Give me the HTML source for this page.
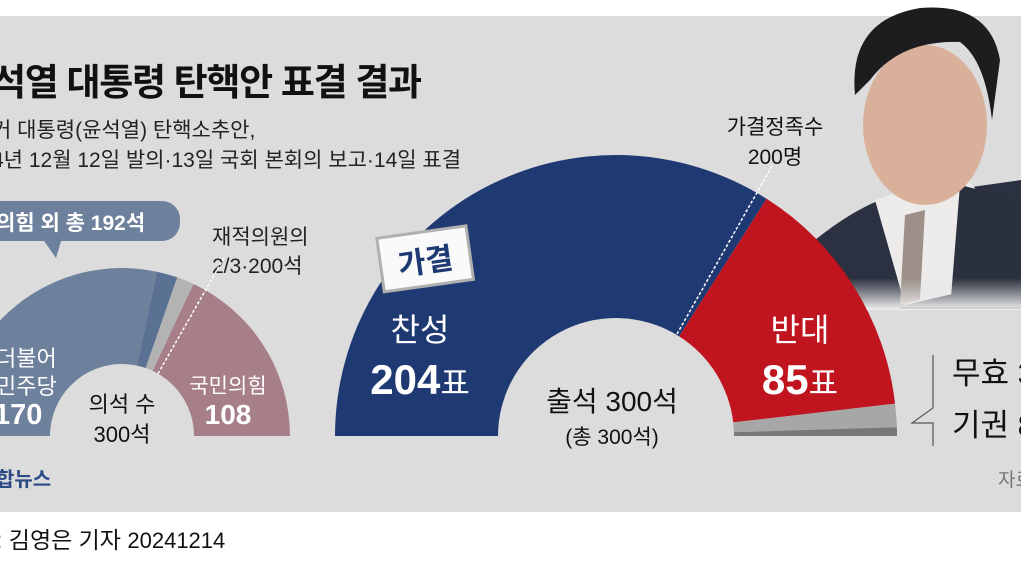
<!DOCTYPE html>
<html><head><meta charset="utf-8"><style>
html,body{margin:0;padding:0;background:#fff;}
svg{display:block;font-family:"Liberation Sans","Noto Sans CJK KR",sans-serif;}
</style></head><body>
<svg width="1021" height="568" viewBox="0 0 1021 568" xmlns="http://www.w3.org/2000/svg">
<rect x="0" y="16" width="1021" height="496" fill="#dcdcdc"/>
<defs>
<linearGradient id="fade" x1="0" y1="0" x2="0" y2="1">
<stop offset="0.6" stop-color="#dcdcdc" stop-opacity="0"/>
<stop offset="1" stop-color="#f2f2f2" stop-opacity="1"/>
</linearGradient>
</defs>
<path d="M800,310 L815,240 Q850,212 880,200 L1021,180 L1021,310 Z" fill="#2b3140"/>
<path d="M875,200 L920,185 L968,180 L985,200 L970,290 L905,305 Z" fill="#ecebea"/>
<path d="M905,215 L925,210 L920,300 L900,305 Z" fill="#9c9088"/>
<path d="M960,185 L1021,200 L1021,310 L950,310 Z" fill="#2a303d"/>
<ellipse cx="925" cy="125" rx="62" ry="80" fill="#d9b19b"/>
<path d="M855,95 Q848,20 920,8 Q990,2 1000,60 L992,120 Q985,60 960,42 Q900,40 870,80 Z" fill="#1d1d1f"/>
<rect x="800" y="230" width="221" height="80" fill="url(#fade)"/>
<line x1="900" y1="308" x2="1021" y2="308" stroke="#bdbdbd" stroke-width="1"/>
<text x="-8" y="95" font-size="37" font-weight="bold" fill="#111" letter-spacing="-1.3">석열 대통령 탄핵안 표결 결과</text>
<text x="-8" y="137" font-size="21" fill="#222">거 대통령(윤석열) 탄핵소추안,</text>
<text x="-8" y="167" font-size="21" fill="#222">4년 12월 12일 발의·13일 국회 본회의 보고·14일 표결</text>
<rect x="-30" y="201" width="210" height="40" rx="18" fill="#6d809c"/>
<path d="M42,238 L56,258 L62,238 Z" fill="#6d809c"/>
<text x="-4" y="230" font-size="21" font-weight="bold" fill="#fff">의힘 외 총 192석</text>
<text x="212" y="244" font-size="21" fill="#222">재적의원의</text>
<text x="212" y="273" font-size="21" fill="#222">2/3·200석</text>
<path d="M-46,436 A168,168 0 0 1 156.9,271.7 L137,365.6 A72,72 0 0 0 50,436 Z" fill="#6d809c"/>
<path d="M156.9,271.7 A168,168 0 0 1 177.3,277.3 L145.7,368 A72,72 0 0 0 137,365.6 Z" fill="#5a7194"/>
<path d="M177.3,277.3 A168,168 0 0 1 193.5,284 L152.7,370.9 A72,72 0 0 0 145.7,368 Z" fill="#b3b3b3"/>
<path d="M193.5,284 A168,168 0 0 1 290,436 L194,436 A72,72 0 0 0 152.7,370.9 Z" fill="#a77f89"/>
<line x1="158" y1="373.6" x2="225" y2="256" stroke="#fff" stroke-width="1.5" stroke-dasharray="3,2"/>
<text x="-4" y="366" font-size="22" fill="#fff">더불어</text>
<text x="-4" y="394" font-size="22" fill="#fff">민주당</text>
<text x="-6" y="424" font-size="29" font-weight="bold" fill="#fff">170</text>
<text x="122" y="412" font-size="22" fill="#111" text-anchor="middle">의석 수</text>
<text x="122" y="442" font-size="22" fill="#111" text-anchor="middle">300석</text>
<text x="228" y="393" font-size="21" fill="#fff" text-anchor="middle">국민의힘</text>
<text x="228" y="424" font-size="28" font-weight="bold" fill="#fff" text-anchor="middle">108</text>
<path d="M335,436 A281,281 0 0 1 766.6,198.8 L679.2,336.4 A118,118 0 0 0 498,436 Z" fill="#1f3a73"/>
<path d="M766.6,198.8 A281,281 0 0 1 895.1,403.7 L733.2,422.4 A118,118 0 0 0 679.2,336.4 Z" fill="#c0141f"/>
<path d="M895.1,403.7 A281,281 0 0 1 896.9,427.2 L733.9,432.3 A118,118 0 0 0 733.2,422.4 Z" fill="#a7a7a7"/>
<path d="M896.9,427.2 A281,281 0 0 1 897,436 L734,436 A118,118 0 0 0 733.9,432.3 Z" fill="#777"/>
<line x1="677" y1="334" x2="772" y2="166" stroke="#fff" stroke-width="1.5" stroke-dasharray="3,2"/>
<text x="775" y="134" font-size="21" fill="#111" text-anchor="middle">가결정족수</text>
<text x="775" y="164" font-size="21" fill="#111" text-anchor="middle">200명</text>
<g transform="rotate(-8 424 258)">
<rect x="380" y="232" width="90" height="54" fill="#fafafa" stroke="#b0b0b0" stroke-width="3"/>
<text x="425" y="272" font-size="30" font-weight="bold" fill="#1f3a73" text-anchor="middle">가결</text>
</g>
<text x="420" y="341" font-size="32" fill="#fff" text-anchor="middle">찬성</text>
<text x="420" y="394" font-size="42" font-weight="bold" fill="#fff" text-anchor="middle">204<tspan font-size="32" font-weight="normal">표</tspan></text>
<text x="800" y="341" font-size="32" fill="#fff" text-anchor="middle">반대</text>
<text x="800" y="394" font-size="42" font-weight="bold" fill="#fff" text-anchor="middle">85<tspan font-size="32" font-weight="normal">표</tspan></text>
<text x="612" y="411" font-size="28" fill="#111" text-anchor="middle">출석 300석</text>
<text x="612" y="444" font-size="21" fill="#111" text-anchor="middle">(총 300석)</text>
<path d="M933,355 L933,408 L912,423 L933,423 L933,446" fill="none" stroke="#555" stroke-width="1.2"/>
<text x="952" y="384" font-size="31" fill="#111">무효 3</text>
<text x="952" y="436" font-size="31" fill="#111">기권 8</text>
<text x="998" y="486" font-size="19" fill="#777">자료</text>
<text x="-4" y="486" font-size="20" font-weight="bold" fill="#2b4a86">합뉴스</text>
<text x="-4" y="548" font-size="23" fill="#111">: 김영은 기자 <tspan font-size="22">20241214</tspan></text>
</svg>
</body></html>
